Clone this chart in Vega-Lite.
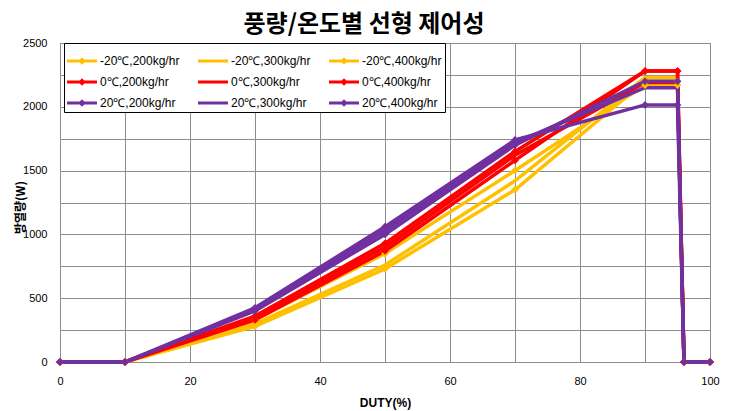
{
  "$schema": "https://vega.github.io/schema/vega-lite/v6.json",
  "width": 650,
  "height": 319,
  "autosize": {"type": "none"},
  "padding": {"left": 60, "top": 43, "right": 20, "bottom": 49},
  "background": "white",
  "title": {
    "text": "풍량/온도별 선형 제어성",
    "font": "Noto Sans CJK KR",
    "fontSize": 24,
    "fontWeight": "bold",
    "color": "#000000",
    "anchor": "middle",
    "dx": -21,
    "offset": 0
  },
  "data": {"values": [
    {"series":"-20℃,200kg/hr","temp":-20,"flow":200,"duty":0,"w":0},
    {"series":"-20℃,200kg/hr","temp":-20,"flow":200,"duty":10,"w":0},
    {"series":"-20℃,200kg/hr","temp":-20,"flow":200,"duty":30,"w":280},
    {"series":"-20℃,200kg/hr","temp":-20,"flow":200,"duty":50,"w":730},
    {"series":"-20℃,200kg/hr","temp":-20,"flow":200,"duty":70,"w":1350},
    {"series":"-20℃,200kg/hr","temp":-20,"flow":200,"duty":90,"w":2200},
    {"series":"-20℃,200kg/hr","temp":-20,"flow":200,"duty":95,"w":2200},
    {"series":"-20℃,200kg/hr","temp":-20,"flow":200,"duty":96,"w":0},
    {"series":"-20℃,200kg/hr","temp":-20,"flow":200,"duty":100,"w":0},
    {"series":"-20℃,300kg/hr","temp":-20,"flow":300,"duty":0,"w":0},
    {"series":"-20℃,300kg/hr","temp":-20,"flow":300,"duty":10,"w":0},
    {"series":"-20℃,300kg/hr","temp":-20,"flow":300,"duty":30,"w":300},
    {"series":"-20℃,300kg/hr","temp":-20,"flow":300,"duty":50,"w":760},
    {"series":"-20℃,300kg/hr","temp":-20,"flow":300,"duty":70,"w":1420},
    {"series":"-20℃,300kg/hr","temp":-20,"flow":300,"duty":90,"w":2230},
    {"series":"-20℃,300kg/hr","temp":-20,"flow":300,"duty":95,"w":2230},
    {"series":"-20℃,300kg/hr","temp":-20,"flow":300,"duty":96,"w":0},
    {"series":"-20℃,300kg/hr","temp":-20,"flow":300,"duty":100,"w":0},
    {"series":"-20℃,400kg/hr","temp":-20,"flow":400,"duty":0,"w":0},
    {"series":"-20℃,400kg/hr","temp":-20,"flow":400,"duty":10,"w":0},
    {"series":"-20℃,400kg/hr","temp":-20,"flow":400,"duty":30,"w":330},
    {"series":"-20℃,400kg/hr","temp":-20,"flow":400,"duty":50,"w":850},
    {"series":"-20℃,400kg/hr","temp":-20,"flow":400,"duty":70,"w":1500},
    {"series":"-20℃,400kg/hr","temp":-20,"flow":400,"duty":90,"w":2170},
    {"series":"-20℃,400kg/hr","temp":-20,"flow":400,"duty":95,"w":2170},
    {"series":"-20℃,400kg/hr","temp":-20,"flow":400,"duty":96,"w":0},
    {"series":"-20℃,400kg/hr","temp":-20,"flow":400,"duty":100,"w":0},
    {"series":"0℃,200kg/hr","temp":0,"flow":200,"duty":0,"w":0},
    {"series":"0℃,200kg/hr","temp":0,"flow":200,"duty":10,"w":0},
    {"series":"0℃,200kg/hr","temp":0,"flow":200,"duty":30,"w":330},
    {"series":"0℃,200kg/hr","temp":0,"flow":200,"duty":50,"w":870},
    {"series":"0℃,200kg/hr","temp":0,"flow":200,"duty":70,"w":1580},
    {"series":"0℃,200kg/hr","temp":0,"flow":200,"duty":90,"w":2280},
    {"series":"0℃,200kg/hr","temp":0,"flow":200,"duty":95,"w":2280},
    {"series":"0℃,200kg/hr","temp":0,"flow":200,"duty":96,"w":0},
    {"series":"0℃,200kg/hr","temp":0,"flow":200,"duty":100,"w":0},
    {"series":"0℃,300kg/hr","temp":0,"flow":300,"duty":0,"w":0},
    {"series":"0℃,300kg/hr","temp":0,"flow":300,"duty":10,"w":0},
    {"series":"0℃,300kg/hr","temp":0,"flow":300,"duty":30,"w":350},
    {"series":"0℃,300kg/hr","temp":0,"flow":300,"duty":50,"w":900},
    {"series":"0℃,300kg/hr","temp":0,"flow":300,"duty":70,"w":1620},
    {"series":"0℃,300kg/hr","temp":0,"flow":300,"duty":90,"w":2190},
    {"series":"0℃,300kg/hr","temp":0,"flow":300,"duty":95,"w":2190},
    {"series":"0℃,300kg/hr","temp":0,"flow":300,"duty":96,"w":0},
    {"series":"0℃,300kg/hr","temp":0,"flow":300,"duty":100,"w":0},
    {"series":"0℃,400kg/hr","temp":0,"flow":400,"duty":0,"w":0},
    {"series":"0℃,400kg/hr","temp":0,"flow":400,"duty":10,"w":0},
    {"series":"0℃,400kg/hr","temp":0,"flow":400,"duty":30,"w":360},
    {"series":"0℃,400kg/hr","temp":0,"flow":400,"duty":50,"w":930},
    {"series":"0℃,400kg/hr","temp":0,"flow":400,"duty":70,"w":1650},
    {"series":"0℃,400kg/hr","temp":0,"flow":400,"duty":90,"w":2280},
    {"series":"0℃,400kg/hr","temp":0,"flow":400,"duty":95,"w":2280},
    {"series":"0℃,400kg/hr","temp":0,"flow":400,"duty":96,"w":0},
    {"series":"0℃,400kg/hr","temp":0,"flow":400,"duty":100,"w":0},
    {"series":"20℃,200kg/hr","temp":20,"flow":200,"duty":0,"w":0},
    {"series":"20℃,200kg/hr","temp":20,"flow":200,"duty":10,"w":0},
    {"series":"20℃,200kg/hr","temp":20,"flow":200,"duty":30,"w":400},
    {"series":"20℃,200kg/hr","temp":20,"flow":200,"duty":50,"w":1000},
    {"series":"20℃,200kg/hr","temp":20,"flow":200,"duty":70,"w":1700},
    {"series":"20℃,200kg/hr","temp":20,"flow":200,"duty":90,"w":2200},
    {"series":"20℃,200kg/hr","temp":20,"flow":200,"duty":95,"w":2200},
    {"series":"20℃,200kg/hr","temp":20,"flow":200,"duty":96,"w":0},
    {"series":"20℃,200kg/hr","temp":20,"flow":200,"duty":100,"w":0},
    {"series":"20℃,300kg/hr","temp":20,"flow":300,"duty":0,"w":0},
    {"series":"20℃,300kg/hr","temp":20,"flow":300,"duty":10,"w":0},
    {"series":"20℃,300kg/hr","temp":20,"flow":300,"duty":30,"w":410},
    {"series":"20℃,300kg/hr","temp":20,"flow":300,"duty":50,"w":1030},
    {"series":"20℃,300kg/hr","temp":20,"flow":300,"duty":70,"w":1720},
    {"series":"20℃,300kg/hr","temp":20,"flow":300,"duty":90,"w":2150},
    {"series":"20℃,300kg/hr","temp":20,"flow":300,"duty":95,"w":2150},
    {"series":"20℃,300kg/hr","temp":20,"flow":300,"duty":96,"w":0},
    {"series":"20℃,300kg/hr","temp":20,"flow":300,"duty":100,"w":0},
    {"series":"20℃,400kg/hr","temp":20,"flow":400,"duty":0,"w":0},
    {"series":"20℃,400kg/hr","temp":20,"flow":400,"duty":10,"w":0},
    {"series":"20℃,400kg/hr","temp":20,"flow":400,"duty":30,"w":425},
    {"series":"20℃,400kg/hr","temp":20,"flow":400,"duty":50,"w":1060},
    {"series":"20℃,400kg/hr","temp":20,"flow":400,"duty":70,"w":1740},
    {"series":"20℃,400kg/hr","temp":20,"flow":400,"duty":90,"w":2015},
    {"series":"20℃,400kg/hr","temp":20,"flow":400,"duty":95,"w":2015},
    {"series":"20℃,400kg/hr","temp":20,"flow":400,"duty":96,"w":0},
    {"series":"20℃,400kg/hr","temp":20,"flow":400,"duty":100,"w":0}
  ]},
  "encoding": {
    "x": {
      "field": "duty", "type": "quantitative",
      "scale": {"domain": [0, 100], "nice": false, "zero": false},
      "axis": {
        "values": [0,10,20,30,40,50,60,70,80,90,100],
        "labelExpr": "datum.value % 20 == 0 ? datum.label : ''",
        "title": "DUTY(%)",
        "titleFont": "Liberation Sans", "titleFontSize": 12, "titleFontWeight": "bold", "titleColor": "#000000",
        "titleY": 40, "titleBaseline": "middle",
        "labelFont": "Liberation Sans", "labelFontSize": 11, "labelColor": "#000000",
        "labelPadding": 13, "ticks": false,
        "grid": true, "gridColor": "#8c8c8c", "gridWidth": 1,
        "domainColor": "#8c8c8c", "labelFlush": false
      }
    },
    "y": {
      "field": "w", "type": "quantitative",
      "scale": {"domain": [0, 2500], "nice": false},
      "axis": {
        "values": [0,250,500,750,1000,1250,1500,1750,2000,2250,2500],
        "labelExpr": "datum.value % 500 == 0 ? datum.label : ''",
        "format": "d",
        "title": "방열량(W)",
        "titleFont": "Noto Sans CJK KR", "titleFontSize": 12, "titleFontWeight": "bold", "titleColor": "#000000",
        "titleX": -40, "titleY": 164, "titleBaseline": "middle",
        "labelFont": "Liberation Sans", "labelFontSize": 11, "labelColor": "#000000",
        "labelPadding": 13, "ticks": false,
        "grid": true, "gridColor": "#8c8c8c", "gridWidth": 1,
        "domainColor": "#8c8c8c", "labelFlush": false
      }
    },
    "color": {
      "field": "series", "type": "nominal",
      "scale": {
        "domain": ["-20℃,200kg/hr","-20℃,300kg/hr","-20℃,400kg/hr","0℃,200kg/hr","0℃,300kg/hr","0℃,400kg/hr","20℃,200kg/hr","20℃,300kg/hr","20℃,400kg/hr"],
        "range": ["#FFC000","#FFC000","#FFC000","#FF0000","#FF0000","#FF0000","#7030A0","#7030A0","#7030A0"]
      }
    }
  },
  "layer": [
    {
      "mark": {"type": "line", "strokeWidth": 3.5, "interpolate": "linear"},
      "encoding": {
        "order": {"field": "duty", "type": "quantitative"}
      }
    },
    {
      "transform": [{"filter": "datum.flow != 300"}],
      "mark": {"type": "point", "shape": "diamond", "filled": true, "size": 60, "opacity": 1}
    },
    {
      "mark": {"type": "point", "filled": true, "size": 0, "opacity": 1},
      "encoding": {
        "shape": {
          "field": "series", "type": "nominal",
          "scale": {
            "domain": ["-20℃,200kg/hr","-20℃,300kg/hr","-20℃,400kg/hr","0℃,200kg/hr","0℃,300kg/hr","0℃,400kg/hr","20℃,200kg/hr","20℃,300kg/hr","20℃,400kg/hr"],
            "range": [
              "M-1,-0.1H1V0.1H-1Z M0,-0.25L0.25,0L0,0.25L-0.25,0Z",
              "M-1,-0.1H1V0.1H-1Z",
              "M-1,-0.1H1V0.1H-1Z M0,-0.25L0.25,0L0,0.25L-0.25,0Z",
              "M-1,-0.1H1V0.1H-1Z M0,-0.25L0.25,0L0,0.25L-0.25,0Z",
              "M-1,-0.1H1V0.1H-1Z",
              "M-1,-0.1H1V0.1H-1Z M0,-0.25L0.25,0L0,0.25L-0.25,0Z",
              "M-1,-0.1H1V0.1H-1Z M0,-0.25L0.25,0L0,0.25L-0.25,0Z",
              "M-1,-0.1H1V0.1H-1Z",
              "M-1,-0.1H1V0.1H-1Z M0,-0.25L0.25,0L0,0.25L-0.25,0Z"
            ]
          }
        }
      }
    }
  ],
  "config": {
    "view": {"stroke": "#8c8c8c", "strokeWidth": 1},
    "legend": {
      "title": null, "orient": "none", "legendX": 4, "legendY": 0,
      "direction": "horizontal",
      "columns": 3, "symbolSize": 900, "symbolStrokeWidth": 0,
      "labelFont": "Liberation Sans", "labelFontSize": 12, "labelColor": "#000000",
      "labelOffset": 3, "columnPadding": 18, "rowPadding": 0, "padding": 3,
      "strokeColor": "#000000", "fillColor": "#ffffff", "cornerRadius": 0
    }
  }
}
